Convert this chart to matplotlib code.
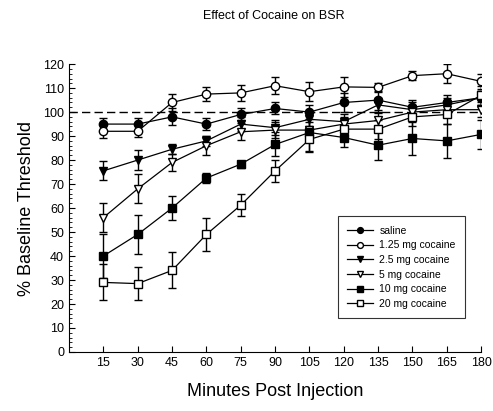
import matplotlib as mpl
mpl.use('Agg')
import matplotlib.pyplot as plt
from matplotlib.ticker import MultipleLocator

plt.rcParams['font.family'] = ['Liberation Sans', 'DejaVu Sans']

minutes = [15, 30, 45, 60, 75, 90, 105, 120, 135, 150, 165, 180]

labels = ['saline', '1.25 mg cocaine', '2.5 mg cocaine', '5 mg cocaine',
          '10 mg cocaine', '20 mg cocaine']

saline = [95, 95, 98, 95, 99, 101.5, 100, 104, 105, 102, 104, 106]
saline_err = [2.5, 2.5, 3.5, 2.5, 2.5, 2.5, 3, 4, 4, 3, 3, 3]

c125 = [92, 92, 104, 107.5, 108, 111, 108.5, 110.5, 110.3, 115.2, 116, 112.8]
c125_err = [3, 2.5, 3.5, 3, 3.5, 3.5, 4, 4, 2, 2, 4, 3]

c25 = [75.5, 80, 84.5, 88, 95, 93.5, 97, 96, 103, 101, 103, 106]
c25_err = [4, 4, 2, 2, 3, 3, 3, 3, 3, 3, 3, 3]

c5 = [56, 68, 79, 86, 91.8, 92.5, 92.5, 95, 96.5, 100, 101, 101]
c5_err = [6, 6, 3.5, 4, 3.5, 3.5, 3.5, 3, 3, 3, 3, 3]

c10 = [40, 49, 60, 72.5, 78.3, 86.5, 91.5, 89.4, 86.2, 89, 88, 90.7]
c10_err = [9, 8, 5, 2, 1.5, 5, 8, 4, 6, 7, 7, 6]

c20 = [29, 28.5, 34, 49, 61.2, 75.5, 88.6, 92.9, 92.9, 98, 99, 107]
c20_err = [7.5, 7, 7.5, 7, 4.5, 4.5, 5, 4, 4, 4, 4, 4]

series = [saline, c125, c25, c5, c10, c20]
errors = [saline_err, c125_err, c25_err, c5_err, c10_err, c20_err]
markers = ['o', 'o', 'v', 'v', 's', 's']
faces = ['black', 'white', 'black', 'white', 'black', 'white']

fig = plt.figure(figsize=(4.93, 4.11), dpi=100)
ax = fig.add_axes([0.140, 0.1436, 0.836, 0.7004])

ax.plot([0, 180], [100, 100], color='black', linestyle=(0, (6, 3)), linewidth=1, zorder=1)

for y, e, m, fc, lab in zip(series, errors, markers, faces, labels):
    ax.errorbar(minutes, y, yerr=e, color='black', marker=m, markerfacecolor=fc,
                markeredgecolor='black', markersize=6, linewidth=0.9,
                elinewidth=1, capsize=3, capthick=1, label=lab, zorder=3)

ax.set_xlim(0, 180)
ax.set_ylim(0, 120)
ax.set_xticks(minutes)
ax.set_yticks(range(0, 121, 10))
ax.yaxis.set_minor_locator(MultipleLocator(2))
ax.tick_params(axis='both', direction='in', labelsize=9, length=4, width=0.8)
ax.tick_params(axis='y', which='minor', direction='in', length=2, width=0.6)
ax.spines['top'].set_visible(False)
ax.spines['right'].set_visible(False)

ax.set_xlabel('Minutes Post Injection', fontsize=13, labelpad=10)
ax.set_ylabel('% Baseline Threshold', fontsize=13, labelpad=6)
fig.text(0.555, 0.962, 'Effect of Cocaine on BSR', ha='center', va='center', fontsize=9)

handles, labs = ax.get_legend_handles_labels()
leg = ax.legend([h[0] for h in handles], labs, loc='upper left',
                bbox_to_anchor=(0.639, 0.49), fontsize=7.5, frameon=True,
                fancybox=False, edgecolor='black', handlelength=2.5,
                markerscale=0.7, labelspacing=0.45, borderpad=0.9,
                handletextpad=0.6)
leg.get_frame().set_linewidth(0.8)

fig.savefig('out.png', dpi=100)
